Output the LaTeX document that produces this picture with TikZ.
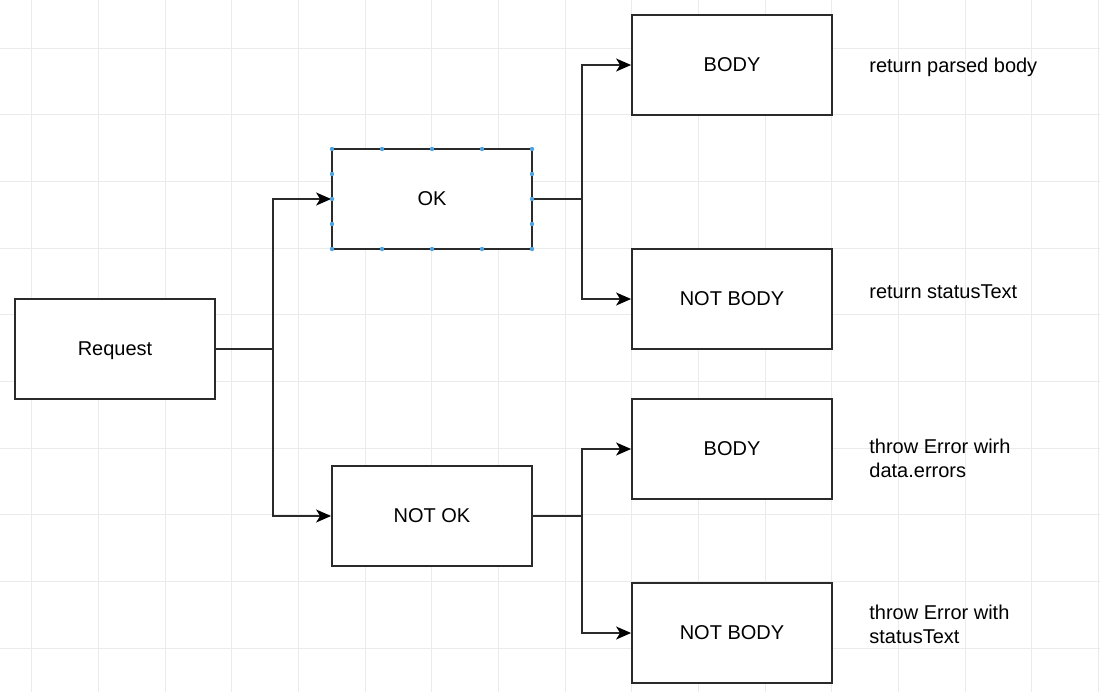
\documentclass[tikz,border=0pt]{standalone}
\usepackage{fontspec}
\setmainfont{Liberation Sans}
\usetikzlibrary{arrows.meta, positioning}
\definecolor{boxLine}{HTML}{2A2A2A}
\definecolor{gridLine}{HTML}{EBEBEB}
\definecolor{handleBlue}{HTML}{4EA3E0}

\tikzset{
  flowbox/.style={draw=boxLine, line width=0.9pt, fill=white, minimum width=100pt, minimum height=50pt, inner sep=0pt, text depth=0pt, font=\fontsize{10}{12}\selectfont},
  flowline/.style={draw=boxLine, line width=0.8pt},
  flowarrow/.style={flowline, -{Stealth[length=7.5pt, width=6.5pt, inset=2pt, black]}},
  note/.style={anchor=west, align=left, inner sep=0pt, font=\fontsize{10}{12}\selectfont}
}

\begin{document}
\begin{tikzpicture}[x=0.5pt, y=-0.5pt]
        \useasboundingbox (0,0) rectangle (1100,692);
        \fill[white] (0,0) rectangle (1100,692);
        % grid
        \foreach \gx in {0,...,16}
          \draw[gridLine, line width=0.5pt] ({31.7+66.67*\gx},0) -- ({31.7+66.67*\gx},692);
        \foreach \gy in {0,...,9}
          \draw[gridLine, line width=0.5pt] (0,{48.3+66.67*\gy}) -- (1100,{48.3+66.67*\gy});
        % boxes
        \node[flowbox] (request) at (115,349) {Request};
        \node[flowbox] (ok) at (432,199) {OK};
        \node[flowbox] (notok) at (432,516) {NOT OK};
        \node[flowbox] (okbody) at (732,65) {BODY};
        \node[flowbox] (oknobody) at (732,299) {NOT BODY};
        \node[flowbox] (errbody) at (732,449) {BODY};
        \node[flowbox] (errnobody) at (732,633) {NOT BODY};
        % branch points
        \coordinate (splitreq) at (273,349);
        \coordinate (splitok) at (582,199);
        \coordinate (splitnotok) at (582,516);
        \draw[flowline] (request) -- (splitreq);
        \draw[flowarrow] (splitreq) |- (ok);
        \draw[flowarrow] (splitreq) |- (notok);
        \draw[flowline] (ok) -- (splitok);
        \draw[flowarrow] (splitok) |- (okbody);
        \draw[flowarrow] (splitok) |- (oknobody);
        \draw[flowline] (notok) -- (splitnotok);
        \draw[flowarrow] (splitnotok) |- (errbody);
        \draw[flowarrow] (splitnotok) |- (errnobody);
        % selection handles on OK
        \foreach \hx in {332,382,432,482,532} {
          \fill[handleBlue] (\hx,149) circle (2.2);
          \fill[handleBlue] (\hx,249) circle (2.2);
        }
        \foreach \hy in {174,199,224} {
          \fill[handleBlue] (332,\hy) circle (2.2);
          \fill[handleBlue] (532,\hy) circle (2.2);
        }
        % outcomes
        \node[note] (noteparsed) at (869,67) {return parsed body};
        \node[note] (notestatus) at (869,292) {return statusText};
        \node[note] (noteerrors) at (869,458) {throw Error wirh\\data.errors};
        \node[note] (notethrow) at (869,624) {throw Error with\\statusText};
      \end{tikzpicture}
\end{document}
